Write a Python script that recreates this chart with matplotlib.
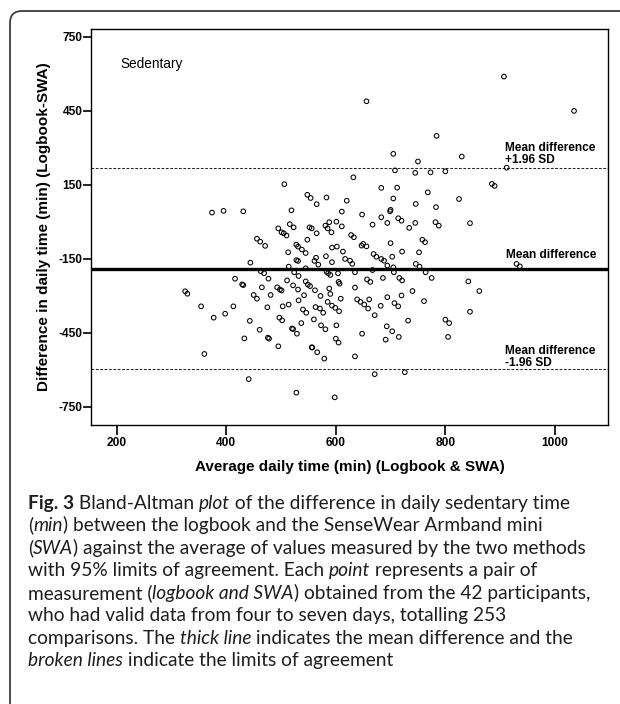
import matplotlib
matplotlib.use("Agg")
import matplotlib.pyplot as plt
from matplotlib.patches import FancyBboxPatch
from matplotlib.transforms import IdentityTransform
from matplotlib.font_manager import FontProperties, findfont

# ---------------- data ----------------
avg_time = [
    656, 907, 1035, 784,
    441, 528, 598, 671, 726,
    705, 750, 830, 708, 745, 773, 800, 912, 632, 683,
    712, 768, 885, 890, 705, 825, 620, 746, 783, 700,
    699, 648, 683, 694, 714, 720, 745, 734, 667, 782,
    788, 845, 628, 633, 650, 647, 656, 700, 721, 752,
    758, 763, 669, 674, 683, 688, 703, 626, 630, 613,
    746, 753, 694, 705, 930, 936, 635, 667, 706, 764,
    506, 548, 554, 583, 565, 374, 395, 431, 519, 611,
    516, 523, 552, 556, 588, 581, 585, 601, 611, 592,
    565, 495, 501, 505, 510, 548, 456, 462, 471, 528,
    531, 538, 545, 513, 593, 602, 582, 564, 531, 528,
    593, 617, 561, 568, 444, 514, 545, 463, 469, 524,
    583, 586, 590, 604,
    325, 329, 354, 377, 398, 413, 416, 429, 431, 443,
    433, 360, 477, 465, 450, 456, 481, 475, 461, 476,
    478, 495, 493, 498, 501, 503, 514, 497, 502, 511,
    522, 532, 531, 532, 542, 545, 553, 549, 562, 572,
    540, 546, 520, 522, 529, 537, 560, 563, 571, 577,
    573, 581, 556, 557, 566, 579, 588, 590, 585, 593,
    599, 606, 601, 600, 605, 609, 605, 607,
    657, 663, 686, 716, 721, 775, 842, 862, 635, 639,
    645, 652, 659, 661, 671, 682, 694, 707, 714, 720,
    740, 761, 732, 693, 703, 715, 691, 648, 635, 800,
    807, 805, 845,
]
diff_time = [
    489, 589, 450, 349,
    -637, -692, -711, -617, -609,
    276, 245, 265, 209, 199, 201, 205, 220, 181, 138,
    139, 120, 154, 146, 95, 93, 86, 73, 60, 49,
    43, 30, 19, -4, 15, 5, -4, -24, -11, -1,
    -15, -5, -53, -62, -89, -96, -99, -86, -120, -123,
    -72, -82, -130, -141, -150, -157, -141, -157, -170, -120,
    -170, -181, -177, -184, -170, -180, -204, -195, -204, -204,
    153, 110, 97, 99, 72, 38, 45, 43, 47, 42,
    -9, -22, -22, -26, -1, -15, -26, 1, -18, -42,
    -46, -26, -42, -46, -55, -72, -68, -80, -97, -92,
    -100, -112, -126, -123, -104, -100, -139, -145, -158, -155,
    -163, -150, -158, -173, -165, -181, -188, -200, -208, -204,
    -201, -208, -215, -208,
    -281, -291, -342, -388, -372, -342, -230, -253, -256, -401,
    -472, -535, -230, -265, -296, -311, -296, -346, -437, -469,
    -473, -504, -265, -274, -278, -342, -335, -388, -399, -237,
    -257, -219, -274, -318, -297, -241, -260, -254, -277, -300,
    -355, -368, -432, -434, -453, -410, -395, -345, -351, -368,
    -419, -435, -508, -509, -528, -554, -270, -292, -324, -339,
    -348, -362, -419, -473, -489, -311, -243, -250,
    -233, -243, -227, -227, -237, -227, -241, -280, -266, -314,
    -324, -335, -351, -314, -378, -340, -305, -329, -342, -298,
    -280, -321, -400, -423, -443, -466, -477, -453, -545, -396,
    -410, -466, -364,
]

mean_difference = -190.0
upper_limit = 217.6
lower_limit = -597.6

x_ticks = [200, 400, 600, 800, 1000]
y_ticks = [750, 450, 150, -150, -450, -750]
x_label = "Average daily time (min) (Logbook & SWA)"
y_label = "Difference in daily time (min) (Logbook-SWA)"
panel_label = "Sedentary"
upper_label = ["Mean difference", "+1.96 SD"]
mean_label = "Mean difference"
lower_label = ["Mean difference", "-1.96 SD"]

caption_lines = [
    [("Fig. 3", "b"), (" Bland-Altman ", "n"), ("plot", "i"),
     (" of the difference in daily sedentary time", "n")],
    [("(", "n"), ("min", "i"), (") between the logbook and the SenseWear Armband mini", "n")],
    [("(", "n"), ("SWA", "i"), (") against the average of values measured by the two methods", "n")],
    [("with 95% limits of agreement. Each ", "n"), ("point", "i"), (" represents a pair of", "n")],
    [("measurement (", "n"), ("logbook and SWA", "i"), (") obtained from the 42 participants,", "n")],
    [("who had valid data from four to seven days, totalling 253", "n")],
    [("comparisons. The ", "n"), ("thick line", "i"), (" indicates the mean difference and the", "n")],
    [("broken lines", "i"), (" indicate the limits of agreement", "n")],
]

# ---------------- figure ----------------
plt.rcParams["font.family"] = ["Liberation Sans", "DejaVu Sans"]
W, H, DPI = 620, 704, 100
fig = plt.figure(figsize=(W / DPI, H / DPI), dpi=DPI)
fig.patch.set_facecolor("white")
rend = fig.canvas.get_renderer()


def fx(px):
    return px / W


def fy(py):
    return 1 - py / H


def width_px(s, **kw):
    t = fig.text(0, 0, s, **kw)
    w = t.get_window_extent(renderer=rend).width
    t.remove()
    return w


# rounded frame around the whole figure (clipped at right and bottom)
frame = FancyBboxPatch((10, -20), 660, (H - 11) + 20,
                       boxstyle="round,pad=0,rounding_size=12",
                       transform=IdentityTransform(), fill=False,
                       ec="#3c3c3c", lw=1.3)
fig.add_artist(frame)

# axes
ax_l, ax_r, ax_t, ax_b = 91, 608, 29, 425
ax = fig.add_axes([fx(ax_l), fy(ax_b), (ax_r - ax_l) / W, (ax_b - ax_t) / H])
ax.set_xlim(153, 1097)
ax.set_ylim(-823, 782)

ax.axhline(upper_limit, color="#222222", lw=0.75, ls=(0, (2.6, 1.6)), zorder=1)
ax.axhline(lower_limit, color="#222222", lw=0.75, ls=(0, (2.6, 1.6)), zorder=1)
ax.axhline(mean_difference, color="black", lw=2.4, zorder=1)

ax.scatter(avg_time, diff_time, s=11, facecolors="none", edgecolors="black",
           linewidths=0.75, zorder=2)

for sp in ax.spines.values():
    sp.set_linewidth(1.0)
    sp.set_color("black")

ax.set_xticks(x_ticks)
ax.set_xticklabels([str(v) for v in x_ticks])
ax.set_yticks(y_ticks)
ax.set_yticklabels([str(v) for v in y_ticks])
ax.tick_params(axis="x", direction="out", length=7, width=1.2, pad=1.5, labelsize=8.6)
ax.tick_params(axis="y", direction="out", length=5.5, width=1.2, pad=0.6, labelsize=8.6)
for lbl in ax.get_xticklabels() + ax.get_yticklabels():
    lbl.set_fontweight("bold")

# in-plot texts
ax.text(206, 640, panel_label, fontsize=9.8, ha="left", va="center")
ann = dict(fontsize=8.6, fontweight="bold", ha="left", va="baseline")
ax.text(909, 289, upper_label[0], **ann)
ax.text(909, 239, upper_label[1], **ann)
ax.text(911, -146, mean_label, **ann)
ax.text(909, -536, lower_label[0], **ann)
ax.text(909, -582, lower_label[1], **ann)

# axis titles
lab_size = 10 * 308 / width_px(x_label, fontsize=10, fontweight="bold")
fig.text(fx(350), fy(467), x_label, ha="center", va="center",
         fontsize=lab_size, fontweight="bold")
fig.text(fx(44), fy(227), y_label, ha="center", va="center", rotation=90,
         fontsize=lab_size, fontweight="bold")


# caption
def caption_family():
    for fam in ["Lato", "Open Sans", "Noto Sans", "DejaVu Sans"]:
        try:
            p = findfont(FontProperties(family=fam, style="italic"),
                         fallback_to_default=False)
        except Exception:
            continue
        if "italic" in p.lower() or "oblique" in p.lower():
            return fam
    return "DejaVu Sans"


cap_fam = caption_family()


def seg_kw(style, size):
    kw = dict(fontsize=size, family=[cap_fam, "DejaVu Sans"], color="#1e1e1e")
    if style == "b":
        kw["fontweight"] = "bold"
    if style == "i":
        kw["fontstyle"] = "italic"
    return kw


def seg_width(s, style, size):
    kw = seg_kw(style, size)
    return width_px("|" + s + "|", **kw) - width_px("||", **kw)


def line_width(line, size):
    return sum(seg_width(s, st, size) for s, st in line)


cap_size = 12 * 558 / line_width(caption_lines[2], 12)
cap_px = 0.72 * cap_size * DPI / 72
for k, line in enumerate(caption_lines):
    base_py = 502 + 22.5 * k + cap_px / 2
    x = 28.0
    for s, st in line:
        fig.text(x, H - base_py, s, transform=IdentityTransform(),
                 ha="left", va="baseline", **seg_kw(st, cap_size))
        x += seg_width(s, st, cap_size)

fig.savefig("out.png", dpi=DPI)
